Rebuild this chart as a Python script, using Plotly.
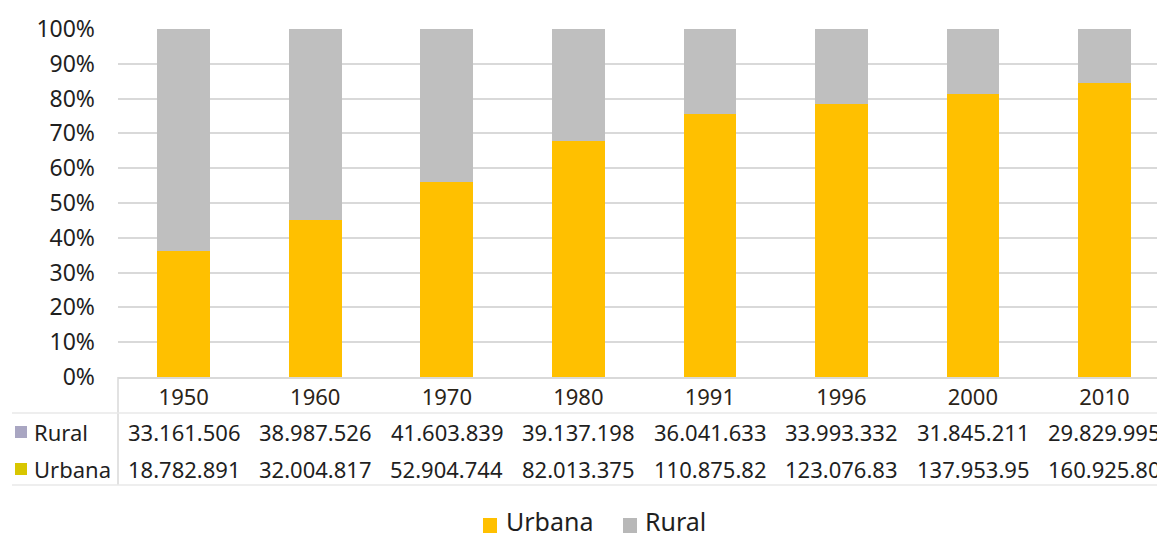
import plotly.graph_objects as go

# Population of Brazil by census year, urban vs rural
years = ["1950", "1960", "1970", "1980", "1991", "1996", "2000", "2010"]
rural = [33161506, 38987526, 41603839, 39137198, 36041633, 33993332, 31845211, 29829995]
urbana = [18782891, 32004817, 52904744, 82013375, 110875826, 123076831, 137953959, 160925804]

# Cell text as it appears in the data table under the chart (narrow columns clip the last digits)
rural_cells = ["33.161.506", "38.987.526", "41.603.839", "39.137.198",
               "36.041.633", "33.993.332", "31.845.211", "29.829.995"]
urbana_cells = ["18.782.891", "32.004.817", "52.904.744", "82.013.375",
                "110.875.82", "123.076.83", "137.953.95", "160.925.80"]

W, H = 1157, 538
L, T, B = 118, 29, 377          # plot area edges in pixels
PW, PH = W - L, B - T

FONT = "Noto Sans"
TXT = "#1f1f1f"
URB = "#FFC000"
RUR = "#BFBFBF"
GRID = "#D9D9D9"


def px_x(p):
    return (p - L) / PW


def px_y(p):
    return (B - p) / PH


fig = go.Figure()
fig.add_trace(go.Bar(x=years, y=urbana, name="Urbana", marker_color=URB,
                     marker_line_width=0, showlegend=False))
fig.add_trace(go.Bar(x=years, y=rural, name="Rural", marker_color=RUR,
                     marker_line_width=0, showlegend=False))

fig.update_layout(
    width=W, height=H,
    margin=dict(l=L, r=0, t=T, b=H - B),
    paper_bgcolor="white", plot_bgcolor="white",
    barmode="stack", barnorm="percent", bargap=0.6,
    font=dict(family=FONT, size=22, color=TXT),
)
fig.update_yaxes(range=[0, 100], dtick=10, ticksuffix="%", showgrid=True,
                 gridcolor=GRID, gridwidth=1.5, zeroline=False, showline=False,
                 ticks="", ticklabelstandoff=22,
                 tickfont=dict(family=FONT, size=23, color=TXT))
fig.update_xaxes(type="category", range=[-0.5, 7.4], showline=True, linecolor=GRID,
                 linewidth=1.5, ticks="", showgrid=False,
                 tickfont=dict(family=FONT, size=22, color="#2b2418"))

shapes = []
ann = []

# data table frame
shapes.append(dict(type="line", xref="paper", yref="paper", x0=0, x1=0,
                   y0=0, y1=px_y(485), line=dict(color=GRID, width=1.5)))
for yy in (413, 485):
    shapes.append(dict(type="line", xref="paper", yref="paper", x0=px_x(12), x1=1,
                       y0=px_y(yy), y1=px_y(yy), line=dict(color="#E8E8E8", width=1.5)))

# row headers with their colour keys, then one cell per census year
rows = [("Rural", "#A9A6C2", 432, rural_cells), ("Urbana", "#D8C600", 469, urbana_cells)]
for label, key, yc, cells in rows:
    shapes.append(dict(type="rect", xref="paper", yref="paper",
                       x0=px_x(15), x1=px_x(27), y0=px_y(yc + 6), y1=px_y(yc - 6),
                       fillcolor=key, line=dict(width=0)))
    ann.append(dict(xref="paper", yref="paper", x=px_x(32), y=px_y(yc), text=label,
                    showarrow=False, xanchor="left", yanchor="middle",
                    font=dict(family=FONT, size=22, color=TXT)))
    for i, c in enumerate(cells):
        ann.append(dict(xref="x", yref="paper", x=i, y=px_y(yc), text=c,
                        showarrow=False, xanchor="center", yanchor="middle",
                        font=dict(family=FONT, size=22, color=TXT)))

# legend under the table
legend_items = [("Urbana", URB, 483, 504), ("Rural", "#B8B8B8", 623, 643)]
for label, col, kx, tx in legend_items:
    shapes.append(dict(type="rect", xref="paper", yref="paper",
                       x0=px_x(kx), x1=px_x(kx + 14), y0=px_y(533), y1=px_y(518),
                       fillcolor=col, line=dict(width=0)))
    ann.append(dict(xref="paper", yref="paper", x=px_x(tx), y=px_y(521), text=label,
                    showarrow=False, xanchor="left", yanchor="middle",
                    font=dict(family=FONT, size=25, color=TXT)))

fig.update_layout(shapes=shapes, annotations=ann)
fig.write_html("out.html")
